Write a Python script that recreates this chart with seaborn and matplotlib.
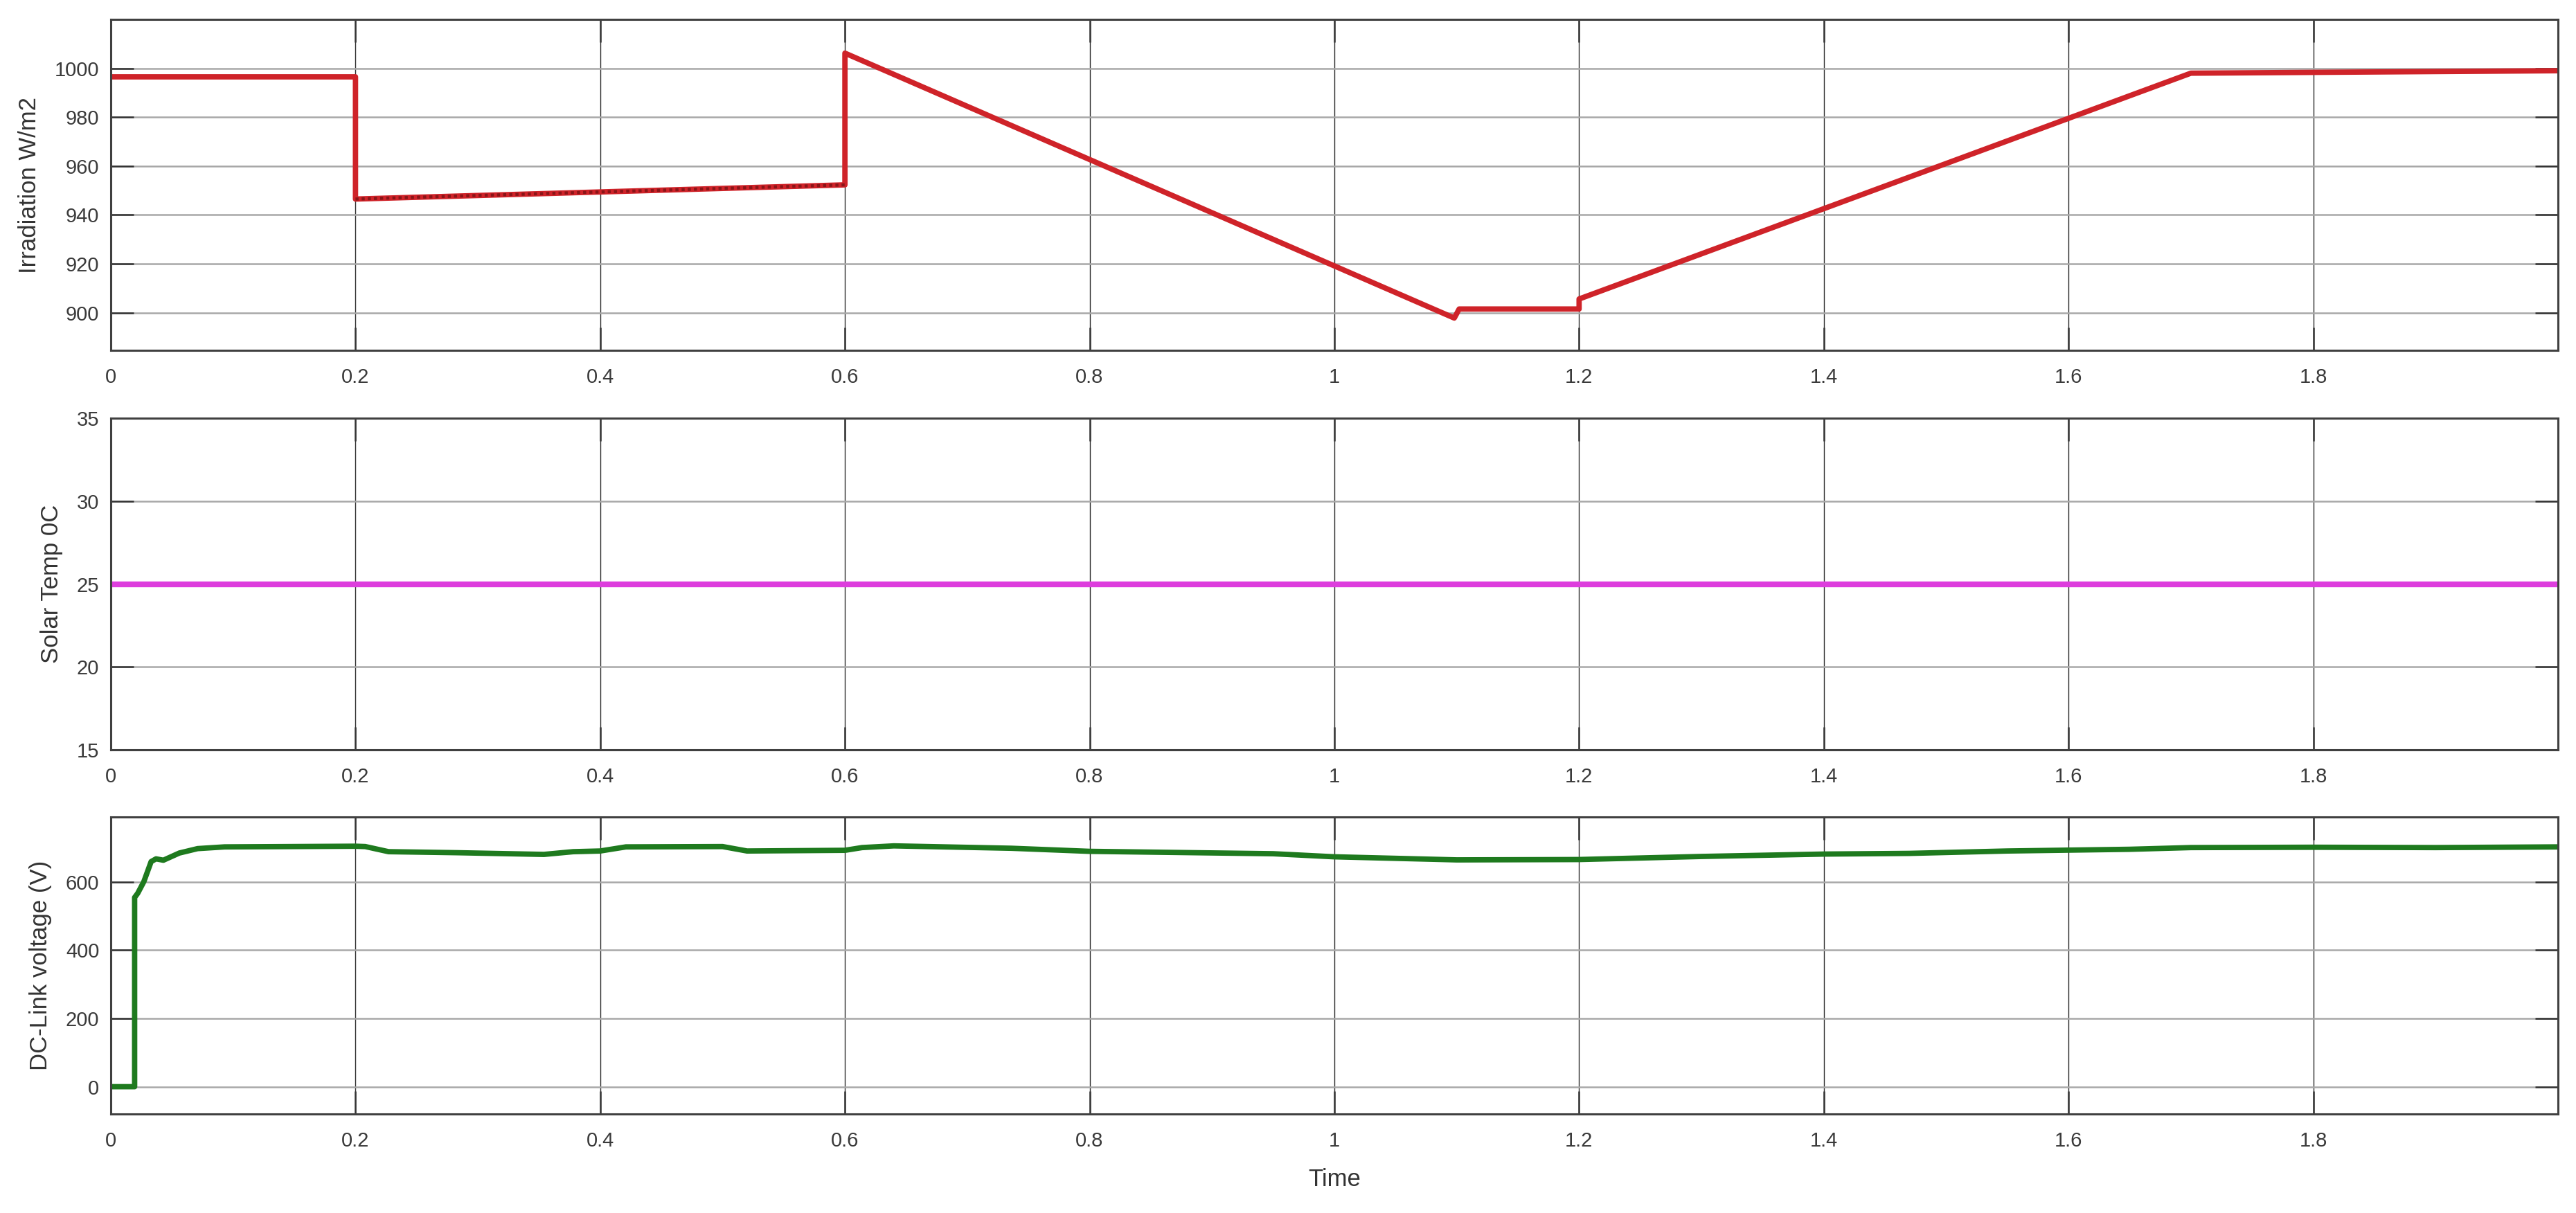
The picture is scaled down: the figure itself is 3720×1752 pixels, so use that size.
import numpy as np
import pandas as pd
import seaborn as sns
import matplotlib.pyplot as plt

# Irradiation profile (W/m2)
t_irr = [0, 0.2, 0.2, 0.6, 0.6, 1.098, 1.102, 1.2, 1.2, 1.7, 2.0]
g_irr = [996.5, 996.5, 946.5, 952.3, 1006.2, 897.8, 901.5, 901.5, 905.6, 998, 999]

# Solar panel temperature (deg C)
t_temp = [0, 2.0]
temp = [25, 25]

# DC-link voltage (V)
t_dc = [0, 0.0195, 0.0195, 0.022, 0.027, 0.033, 0.037, 0.043, 0.056, 0.071,
        0.093, 0.2, 0.208, 0.227, 0.283, 0.354, 0.378, 0.4, 0.421, 0.5,
        0.52, 0.6, 0.614, 0.64, 0.736, 0.8, 0.95, 1.0, 1.1, 1.2, 1.3, 1.4,
        1.47, 1.55, 1.65, 1.7, 1.8, 1.9, 2.0]
v_dc = [0, 0, 554, 566, 600, 659, 667, 663, 684, 697,
        702, 704, 703, 688, 685, 680, 688, 690, 702, 703,
        690, 692, 700, 705, 698, 689, 682, 673, 664, 665, 674, 681,
        683, 690, 695, 700, 701, 700, 702]

x_ticks = [0, 0.2, 0.4, 0.6, 0.8, 1.0, 1.2, 1.4, 1.6, 1.8]
x_labels = ["0", "0.2", "0.4", "0.6", "0.8", "1", "1.2", "1.4", "1.6", "1.8"]

sns.set_style("ticks")
plt.rcParams["font.family"] = ["Liberation Sans", "DejaVu Sans"]
plt.rcParams["text.color"] = "#333333"
plt.rcParams["axes.labelcolor"] = "#333333"

fig = plt.figure(figsize=(18.6, 8.76), dpi=200)
left, width = 0.043, 0.950
ax1 = fig.add_axes([left, 0.711, width, 0.273])
ax2 = fig.add_axes([left, 0.382, width, 0.273])
ax3 = fig.add_axes([left, 0.0816, width, 0.245])

df_irr = pd.DataFrame({"t": t_irr, "g": g_irr})
df_temp = pd.DataFrame({"t": t_temp, "T": temp})
df_dc = pd.DataFrame({"t": t_dc, "v": v_dc})

sns.lineplot(data=df_irr, x="t", y="g", ax=ax1, color="#cf2329", lw=2.8,
             sort=False, estimator=None)
# the 0.2-0.6 stretch renders dotted in the original
sns.lineplot(x=t_irr[2:4], y=g_irr[2:4], ax=ax1, color="#8a1518", lw=1.6,
             linestyle=(0, (1.0, 1.0)), sort=False, estimator=None)
sns.lineplot(data=df_temp, x="t", y="T", ax=ax2, color="#dd3ddd", lw=3.0,
             estimator=None)
sns.lineplot(data=df_dc, x="t", y="v", ax=ax3, color="#1e7a1e", lw=2.8,
             sort=False, estimator=None)

ax1.set_ylim(884.5, 1020)
ax1.set_yticks([900, 920, 940, 960, 980, 1000])
ax2.set_ylim(15, 35)
ax2.set_yticks([15, 20, 25, 30, 35])
ax3.set_ylim(-80, 790)
ax3.set_yticks([0, 200, 400, 600])

ax1.set_ylabel("Irradiation W/m2", fontsize=12.5, labelpad=7)
ax2.set_ylabel("Solar Temp 0C", fontsize=12.5, labelpad=7)
ax3.set_ylabel("DC-Link voltage (V)", fontsize=12.5, labelpad=7)
ax3.set_xlabel("Time", fontsize=12.5, labelpad=9)
ax1.set_xlabel("")
ax2.set_xlabel("")

for ax in (ax1, ax2, ax3):
    ax.set_xlim(0, 2.0)
    ax.set_xticks(x_ticks)
    ax.set_xticklabels(x_labels)
    ax.grid(True, axis="x", color="#2a2a2a", lw=0.5)
    ax.grid(True, axis="y", color="#a8a8a8", lw=0.9)
    ax.tick_params(direction="in", length=12, width=0.9, color="#333333",
                   labelsize=10.5, labelcolor="#3a3a3a",
                   top=True, right=True)
    ax.tick_params(axis="x", pad=9)
    ax.tick_params(axis="y", pad=6)
    for s in ax.spines.values():
        s.set_visible(True)
        s.set_color("#404040")
        s.set_linewidth(1.1)

fig.savefig("out.png", dpi=200, facecolor="white")
